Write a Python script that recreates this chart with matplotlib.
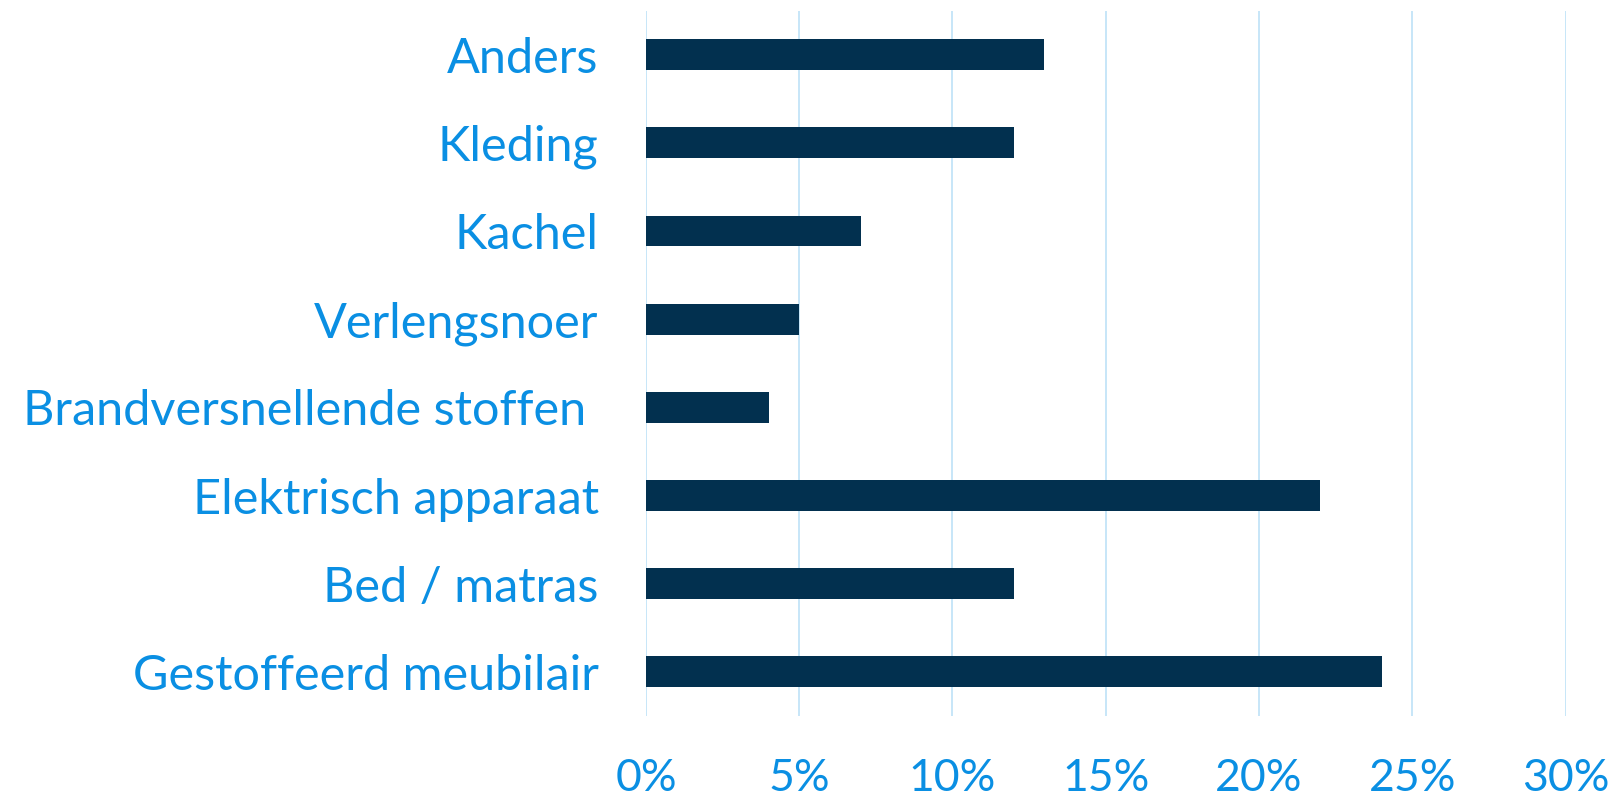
import matplotlib.pyplot as plt
from matplotlib.ticker import FuncFormatter

# Oorzaken van brand (aandeel)
categories = ["Gestoffeerd meubilair", "Bed / matras", "Elektrisch apparaat",
              "Brandversnellende stoffen ", "Verlengsnoer", "Kachel", "Kleding", "Anders"]
values = [24, 12, 22, 4, 5, 7, 12, 13]
ticks = [0, 5, 10, 15, 20, 25, 30]

plt.rcParams['font.family'] = ['Lato', 'DejaVu Sans']

text_col = '#0A8FE3'
bar_col = '#02304F'
grid_col = '#C3E4F8'

fig = plt.figure(figsize=(16.23, 7.97), dpi=100)
ax = fig.add_axes([0.398, 0.1016, 0.5666, 0.8852])

ax.barh(range(len(categories)), values, height=0.35, color=bar_col, zorder=3)

ax.set_xlim(0, 30)
ax.set_ylim(-0.5, len(categories) - 0.5)
ax.set_xticks(ticks)
ax.xaxis.set_major_formatter(FuncFormatter(lambda v, p: f"{v:.0f}%"))
ax.set_yticks(range(len(categories)))
ax.set_yticklabels(categories)

ax.grid(axis='x', color=grid_col, linewidth=1.3, zorder=0)
for s in ax.spines.values():
    s.set_visible(False)
ax.tick_params(axis='both', length=0, colors=text_col)
ax.tick_params(axis='y', pad=34, labelsize=35)
ax.tick_params(axis='x', pad=30, labelsize=32)

fig.savefig('out.png', dpi=100)
